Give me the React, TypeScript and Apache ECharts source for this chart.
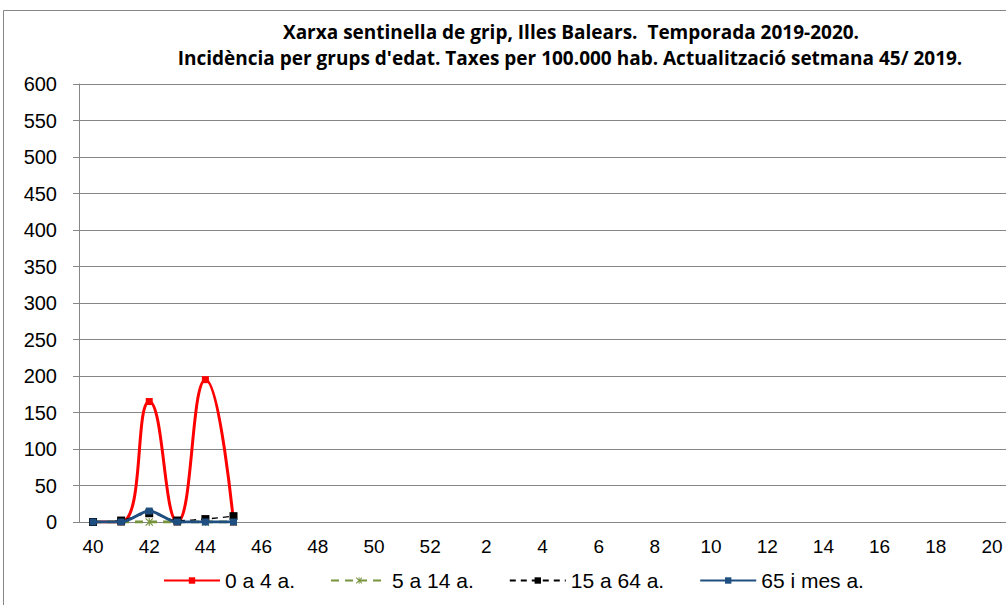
import React, { useEffect, useRef } from "react";
import * as echarts from "echarts";

const weeks = [
  "40", "41", "42", "43", "44", "45", "46", "47", "48", "49", "50", "51", "52",
  "1", "2", "3", "4", "5", "6", "7", "8", "9", "10", "11", "12", "13", "14",
  "15", "16", "17", "18", "19", "20",
];
const age0to4 = [0, 0, 165, 0, 195, 0];
const age5to14 = [0, 0, 0, 0, 0, 0];
const age15to64 = [0, 2, 12, 2, 4, 8];
const age65plus = [0, 0, 15, 0, 0, 0];

const titleLine1 = "Xarxa sentinella de grip, Illes Balears.  Temporada 2019-2020.";
const titleLine2 =
  "Incidència per grups d'edat. Taxes per 100.000 hab. Actualització setmana 45/ 2019.";

const asterisk =
  "path://M0,1 L1,0 L10,9 L9,10Z M9,0 L10,1 L1,10 L0,9Z M4.3,0 L5.7,0 L5.7,10 L4.3,10Z";

export default function App() {
  const ref = useRef<HTMLDivElement>(null);
  useEffect(() => {
    const chart = echarts.init(ref.current!, null, { renderer: "svg" });
    const font = "Liberation Sans, Arial, sans-serif";
    chart.setOption({
      animation: false,
      backgroundColor: "#ffffff",
      textStyle: { fontFamily: font },
      graphic: [
        {
          type: "rect",
          shape: { x: 3.5, y: 10.5, width: 1020, height: 620 },
          style: { fill: "none", stroke: "#868686", lineWidth: 1 },
          silent: true,
        },
        {
          type: "text",
          x: 571,
          y: 32,
          style: {
            text: titleLine1,
            fontFamily: "Open Sans",
            fontWeight: "bold",
            fontSize: 19,
            fill: "#000",
            textAlign: "center",
            textVerticalAlign: "middle",
          },
        },
        {
          type: "text",
          x: 570,
          y: 58,
          style: {
            text: titleLine2,
            fontFamily: "Open Sans",
            fontWeight: "bold",
            fontSize: 19,
            fill: "#000",
            textAlign: "center",
            textVerticalAlign: "middle",
          },
        },
      ],
      grid: { left: 79, right: -3, top: 84, bottom: 83, containLabel: false },
      legend: {
        top: 565,
        left: 158,
        itemWidth: 56,
        itemHeight: 8,
        itemGap: 35,
        textStyle: { fontFamily: font, fontSize: 21, color: "#000" },
        data: ["0 a 4 a.", "5 a 14 a.", "15 a 64 a.", "65 i mes a."],
      },
      xAxis: {
        type: "category",
        data: weeks,
        boundaryGap: true,
        axisLine: { lineStyle: { color: "#868686", width: 1 } },
        axisTick: { interval: 0, length: 5, lineStyle: { color: "#868686" } },
        axisLabel: { interval: 1, margin: 15, fontSize: 19, color: "#000", fontFamily: font },
        splitLine: { show: false },
      },
      yAxis: {
        type: "value",
        min: 0,
        max: 600,
        interval: 50,
        axisLine: { show: true, lineStyle: { color: "#868686", width: 1 } },
        axisTick: { show: true, length: 6, lineStyle: { color: "#868686" } },
        axisLabel: { margin: 22, fontSize: 20, color: "#000", fontFamily: font },
        splitLine: { lineStyle: { color: "#868686", width: 1 } },
      },
      series: [
        {
          name: "0 a 4 a.",
          type: "line",
          data: age0to4,
          smooth: 0.5,
          symbol: "rect",
          symbolSize: 7,
          lineStyle: { color: "#ff0000", width: 3 },
          itemStyle: { color: "#ff0000" },
          z: 3,
        },
        {
          name: "5 a 14 a.",
          type: "line",
          data: age5to14,
          symbol: asterisk,
          symbolSize: 8,
          lineStyle: { color: "#77933c", width: 3, type: [8, 6] },
          itemStyle: { color: "#77933c" },
          z: 4,
        },
        {
          name: "15 a 64 a.",
          type: "line",
          data: age15to64,
          smooth: 0.3,
          symbol: "rect",
          symbolSize: 8,
          lineStyle: { color: "#000000", width: 1.3, type: [6, 5] },
          itemStyle: { color: "#000000" },
          z: 5,
        },
        {
          name: "65 i mes a.",
          type: "line",
          data: age65plus,
          smooth: 0.3,
          symbol: "rect",
          symbolSize: 7,
          lineStyle: { color: "#1f4e80", width: 3 },
          itemStyle: { color: "#1f4e80" },
          z: 6,
        },
      ],
    });
    return () => chart.dispose();
  }, []);
  return (
    <div
      ref={ref}
      style={{ position: "fixed", left: 0, top: 0, width: 1006, height: 605 }}
    />
  );
}
